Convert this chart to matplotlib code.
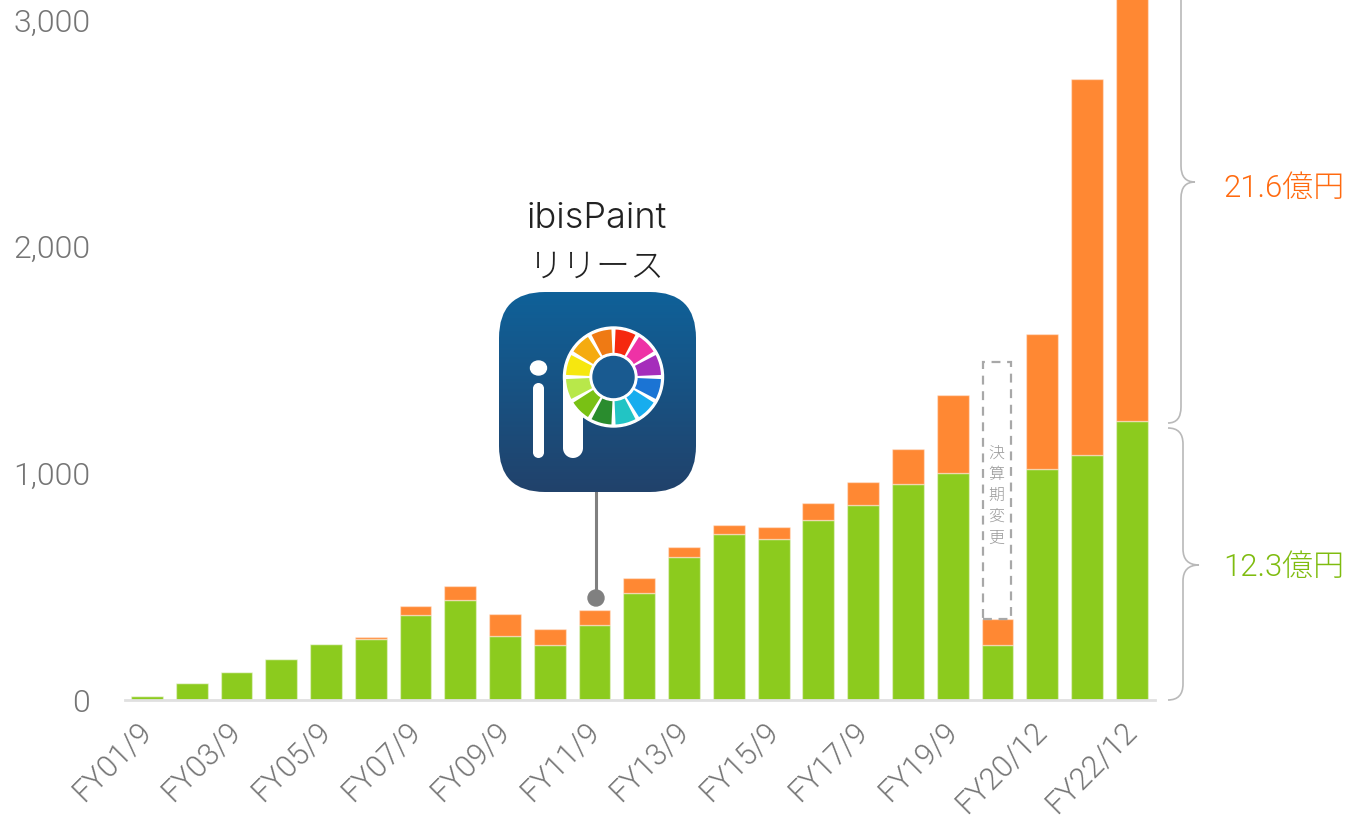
import numpy as np
import matplotlib
matplotlib.use('Agg')
from matplotlib import pyplot as plt
from matplotlib.path import Path
from matplotlib.patches import PathPatch, Rectangle, FancyBboxPatch, Wedge, Circle, Ellipse

plt.rcParams['font.family'] = ['Roboto', 'Noto Sans CJK JP', 'DejaVu Sans']

# values
years = ['FY01/9', 'FY02/9', 'FY03/9', 'FY04/9', 'FY05/9', 'FY06/9', 'FY07/9', 'FY08/9',
         'FY09/9', 'FY10/9', 'FY11/9', 'FY12/9', 'FY13/9', 'FY14/9', 'FY15/9', 'FY16/9',
         'FY17/9', 'FY18/9', 'FY19/9', 'FY20/3', 'FY20/12', 'FY21/12', 'FY22/12']
green = [18, 75, 123, 180, 247, 270, 375, 440, 282, 243, 331, 472, 631, 732, 710, 794,
         860, 953, 1001, 243, 1019, 1081, 1231]
orange = [0, 0, 0, 0, 0, 10, 40, 63, 98, 70, 66, 66, 44, 40, 53, 75,
          102, 154, 344, 114, 595, 1658, 2160]
shown_years = ['FY01/9', 'FY03/9', 'FY05/9', 'FY07/9', 'FY09/9', 'FY11/9', 'FY13/9',
               'FY15/9', 'FY17/9', 'FY19/9', 'FY20/12', 'FY22/12']
yticks = [0, 1000, 2000, 3000]
change_top = 1490

wheel_colors = ['#f5290f', '#ee32a6', '#a52dbb', '#1b74d4', '#17adee', '#22c4c4',
                '#2a8c2e', '#79c114', '#b8e84a', '#f6e70f', '#f5ab0f', '#ef7a14']

W, H = 1345, 819
fig = plt.figure(figsize=(W / 100, H / 100), dpi=100)

# bar axes, placed so that it lines up with the pixels of the reference
ax = fig.add_axes([125 / W, (H - 700) / H, 1030 / W, 700 / H])
x = np.arange(len(years))
edge = (1, 1, 1, 0.4)
ax.bar(x, green, width=0.71, color='#8ccb1e', edgecolor=edge, linewidth=1)
ax.bar(x, orange, width=0.71, bottom=green, color='#ff8833', edgecolor=edge, linewidth=1)

ax.set_xlim(-0.49, 22.52)
ax.set_ylim(0, 700 / 0.2267)
ax.set_yticks(yticks)
ax.set_yticklabels([f'{v:,}' for v in yticks], fontsize=23, color='#757575', fontweight=300,
                   va='center_baseline')
ax.set_xticks([years.index(s) for s in shown_years])
ax.set_xticklabels(shown_years, fontsize=22, color='#757575', fontweight=300,
                   rotation=45, ha='right', va='center', rotation_mode='anchor')
ax.tick_params(axis='y', length=0, pad=25)
ax.tick_params(axis='x', length=0, pad=19)
for s in ['top', 'right', 'left']:
    ax.spines[s].set_visible(False)
ax.spines['bottom'].set_color('#e0e0e0')
ax.spines['bottom'].set_linewidth(2)
ax.patch.set_alpha(0)

# dashed box of the short fiscal period
i = years.index('FY20/3')
ax.add_patch(Rectangle((i - 0.33, green[i] + orange[i]), 0.63, change_top - green[i] - orange[i],
                       fill=False, edgecolor='#a8a8a8', linestyle=(0, (4, 3)), linewidth=1.6, zorder=5))
ax.text(i - 0.02, 1128, '\n'.join('決算期変更'), fontsize=11.5, color='#999999', ha='center', va='top',
        linespacing=1.33, fontweight=300, family=['Noto Sans CJK JP', 'DejaVu Sans'])

# overlay in pixels for the icon, braces and side labels
ov = fig.add_axes([0, 0, 1, 1])
ov.set_xlim(0, W)
ov.set_ylim(H, 0)
ov.axis('off')
ov.patch.set_alpha(0)


def brace(xs, xm, xt, y0, y1, ym):
    r = 16
    verts = [(xs, y0), (xm, y0), (xm, y0 + r), (xm, ym - r), (xm, ym), (xt, ym),
             (xm, ym), (xm, ym + r), (xm, y1 - r), (xm, y1), (xs, y1)]
    codes = [Path.MOVETO, Path.CURVE3, Path.CURVE3, Path.LINETO, Path.CURVE3, Path.CURVE3,
             Path.CURVE3, Path.CURVE3, Path.LINETO, Path.CURVE3, Path.CURVE3]
    ov.add_patch(PathPatch(Path(verts, codes), fill=False, edgecolor='#b9b9b9', linewidth=1.2))


brace(1168, 1183, 1199, 428, 700, 565)
brace(1168, 1181, 1195, -60, 423, 182)
ov.text(1223, 567, '12.3億円', fontsize=22.3, color='#7fbc0f', va='center', ha='left', fontweight=300)
ov.text(1223, 188, '21.6億円', fontsize=22.3, color='#ff6a0f', va='center', ha='left', fontweight=300)

# release note
ov.text(597, 219, 'ibisPaint', fontsize=26, color='#222222', ha='center', va='center', fontweight=300,
        family=['Inter', 'DejaVu Sans'])
ov.text(597, 267, 'リリース', fontsize=24.5, color='#222222', ha='center', va='center', fontweight=300,
        family=['Noto Sans CJK JP', 'DejaVu Sans'])
ov.plot([596, 596], [490, 598], color='#808080', linewidth=2.2, zorder=1)
ov.add_patch(Circle((596, 598), 8, color='#808080', zorder=1))

# icon
rounded = FancyBboxPatch((499 + 46, 292 + 46), 197 - 92, 200 - 92, boxstyle='round,pad=46',
                         facecolor='none', edgecolor='none', zorder=2)
ov.add_patch(rounded)
grad = np.linspace(0, 1, 200)[:, None, None]
top = np.array([15, 97, 153]) / 255
bottom = np.array([33, 66, 107]) / 255
img = ov.imshow(top + (bottom - top) * grad, extent=(499, 696, 492, 292), aspect='auto', zorder=2)
img.set_clip_path(rounded)
ov.set_xlim(0, W)
ov.set_ylim(H, 0)

cx, cy = 613.5, 377
ov.add_patch(Rectangle((563, cy), 20, 71, color='white', zorder=3, linewidth=0))
ov.add_patch(Circle((573, 448), 10, color='white', zorder=3, linewidth=0))
ov.add_patch(Rectangle((533, 388.5), 11, 64, color='white', zorder=3, linewidth=0))
ov.add_patch(Circle((538.5, 388.5), 5.5, color='white', zorder=3, linewidth=0))
ov.add_patch(Circle((538.5, 452.5), 5.5, color='white', zorder=3, linewidth=0))
ov.add_patch(Ellipse((538.5, 368), 16, 14, color='white', zorder=3))
ov.add_patch(Circle((cx, cy), 50, color='white', zorder=3))
for k, c in enumerate(wheel_colors):
    # y axis of the overlay points down, so angles run clockwise from the right
    a0 = -90 + 30 * k
    ov.add_patch(Wedge((cx, cy), 47.5, a0 + 2.5, a0 + 27.5, width=24, facecolor=c, edgecolor='none', zorder=4))
ov.add_patch(Circle((cx, cy), 23.5, color='white', zorder=4))
ov.add_patch(Circle((cx, cy), 20.5, color='#195a90', zorder=5))

fig.savefig('out.png', dpi=100)
